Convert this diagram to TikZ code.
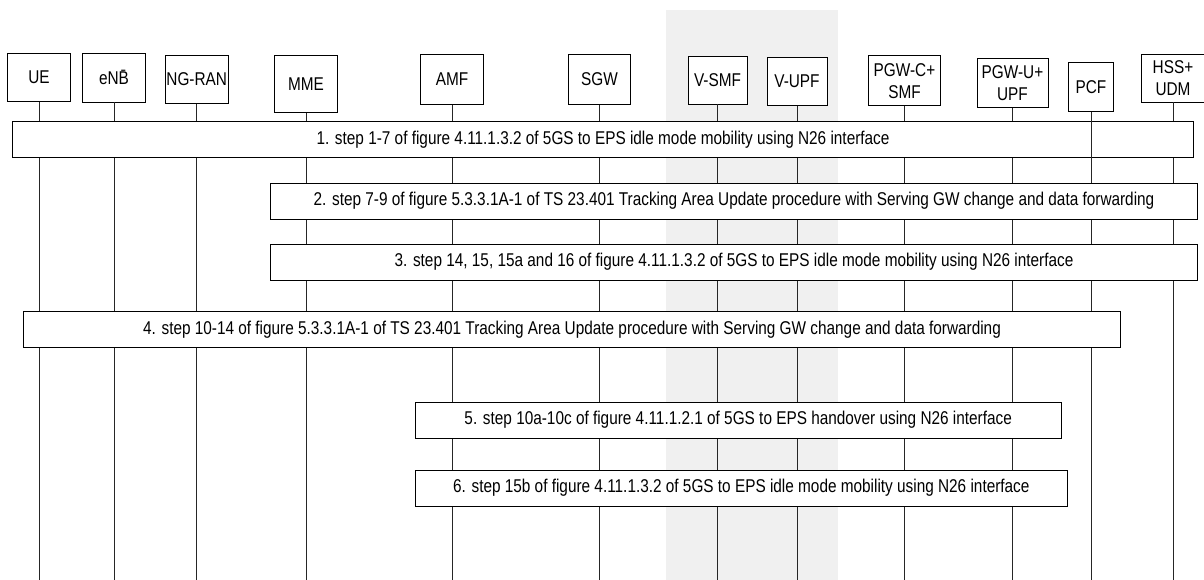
\documentclass[tikz,border=0pt]{standalone}
\usepackage{fontspec}
\newfontfamily\lblfont{Liberation Sans}[FakeStretch=0.83]
\usepackage{tikz}
\usetikzlibrary{positioning}

\begin{document}
\begin{tikzpicture}[
    x=1pt,
    y=-1pt,
    hdr/.style={draw, fill=white, line width=0.8pt, inner sep=0pt, align=center, font=\lblfont\fontsize{18.5}{22}\selectfont},
    stepbox/.style={draw, fill=white, line width=0.8pt, inner sep=0pt, minimum height=36pt, align=center, font=\lblfont\fontsize{18.5}{22}\selectfont},
    life/.style={line width=0.8pt, draw=black!85}
]
\useasboundingbox (0,0) rectangle (1204,580);
\fill[black!6] (665.7,10) rectangle (837.7,580);
\coordinate (bot) at (0,580);

% entities
\node[hdr, minimum width=63pt, minimum height=48pt] (ue) at (39,77.5) {UE};
\node[hdr, minimum width=63pt, minimum height=49pt] (enb) at (114,77.5) {eN\={B}};
\node[hdr, minimum width=63pt, minimum height=48pt] (ngran) at (196.7,79.5) {NG-RAN};
\node[hdr, minimum width=63pt, minimum height=57pt] (mme) at (306,84.2) {MME};
\node[hdr, minimum width=63pt, minimum height=50pt] (amf) at (452,79.2) {AMF};
\node[hdr, minimum width=62pt, minimum height=50pt] (sgw) at (599.5,79.2) {SGW};
\node[hdr, minimum width=59pt, minimum height=48pt] (vsmf) at (717.5,80) {V-SMF};
\node[hdr, minimum width=60pt, minimum height=48pt] (vupf) at (797,81.3) {V-UPF};
\node[hdr, minimum width=72pt, minimum height=50pt] (pgwc) at (904.5,80.7) {PGW-C+\\SMF};
\node[hdr, minimum width=71pt, minimum height=49pt] (pgwu) at (1012.5,82.7) {PGW-U+\\UPF};
\node[hdr, minimum width=45pt, minimum height=49pt] (pcf) at (1091,86.9) {PCF};
\node[hdr, minimum width=64pt, minimum height=48pt] (hss) at (1173,78) {HSS+\\UDM};

\foreach \n in {ue,enb,ngran,mme,amf,sgw,vsmf,vupf,pgwc,pgwu,pcf,hss}
    \draw[life] (\n.south) -- (\n.south |- bot);

% procedure steps
\node[stepbox, minimum width=1180.6pt] (s1) at (603,139.5) {1. step 1-7 of figure 4.11.1.3.2 of 5GS to EPS idle mode mobility using N26 interface};
\node[stepbox, minimum width=927.4pt] (s2) at (734,201.2) {2. step 7-9 of figure 5.3.3.1A-1 of TS 23.401 Tracking Area Update procedure with Serving GW change and data forwarding};
\node[stepbox, minimum width=927.4pt] (s3) at (734,262) {3. step 14, 15, 15a and 16 of figure 4.11.1.3.2 of 5GS to EPS idle mode mobility using N26 interface};
\node[stepbox, minimum width=1097.4pt] (s4) at (572,329.7) {4. step 10-14 of figure 5.3.3.1A-1 of TS 23.401 Tracking Area Update procedure with Serving GW change and data forwarding};
\node[stepbox, minimum width=645.7pt] (s5) at (738.2,420) {5. step 10a-10c of figure 4.11.1.2.1 of 5GS to EPS handover using N26 interface};
\node[stepbox, minimum width=652pt] (s6) at (741.3,487.9) {6. step 15b of figure 4.11.1.3.2 of 5GS to EPS idle mode mobility using N26 interface};

\draw[life] (pcf.south) -- (pcf.south |- s1.south);
\end{tikzpicture}
\end{document}
